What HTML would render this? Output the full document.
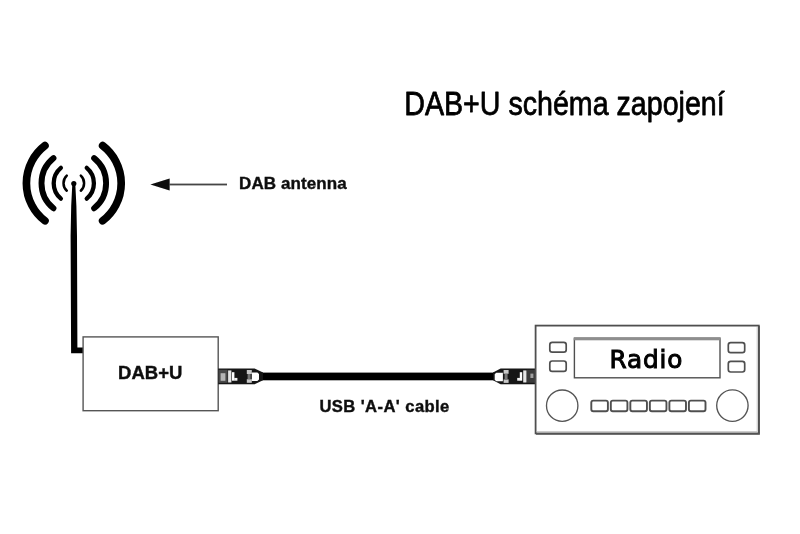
<!DOCTYPE html>
<html>
<head>
<meta charset="utf-8">
<title>DAB+U schéma zapojení</title>
<style>
html,body{margin:0;padding:0;background:#fff;}
body{width:800px;height:534px;overflow:hidden;position:relative;}
svg{position:absolute;left:0;top:0;display:block;}
text{font-family:"Liberation Sans",sans-serif;fill:#000;}
.lbl{font-weight:bold;font-size:13.5px;fill:#111;}
</style>
</head>
<body>
<svg width="800" height="534" viewBox="0 0 800 534">
  <defs>
    <filter id="blur" x="-5%" y="-5%" width="110%" height="110%"><feGaussianBlur stdDeviation="0.6"/></filter>
    <filter id="soft" x="-5%" y="-20%" width="110%" height="140%"><feGaussianBlur stdDeviation="0.35"/></filter>
    <filter id="blur2" x="-10%" y="-30%" width="120%" height="160%"><feGaussianBlur stdDeviation="0.7"/></filter>
  </defs>
  <rect width="800" height="534" fill="#fff"/>
  <text id="title" transform="translate(404.3 114.7) scale(0.842 1)" x="0" y="0" style="font-size:34px;stroke:#000;stroke-width:0.75px;stroke-linejoin:round" filter="url(#soft)">DAB+U schéma zapojení</text>

  <g filter="url(#blur)">
  <!-- antenna waves -->
  <g id="waves" fill="none" stroke="#000" stroke-linecap="round">
    <path d="M44.94 145.60 A 47.4 47.4 0 0 0 44.94 220.80" stroke-width="7.7"/>
    <path d="M102.66 145.60 A 47.4 47.4 0 0 1 102.66 220.80" stroke-width="7.7"/>
    <path d="M53.47 158.10 A 32.3 32.3 0 0 0 53.47 208.30" stroke-width="5.9"/>
    <path d="M94.13 158.10 A 32.3 32.3 0 0 1 94.13 208.30" stroke-width="5.9"/>
    <path d="M60.88 167.80 A 20.1 20.1 0 0 0 60.88 198.60" stroke-width="4.3"/>
    <path d="M86.72 167.80 A 20.1 20.1 0 0 1 86.72 198.60" stroke-width="4.3"/>
    <path d="M66.78 175.67 A 10.3 10.3 0 0 0 66.78 190.73" stroke-width="2.5"/>
    <path d="M80.82 175.67 A 10.3 10.3 0 0 1 80.82 190.73" stroke-width="2.5"/>
  </g>
  <!-- mast -->
  <path id="mast" d="M72.3 184 L75.3 184 L76.4 206 L77 236 L77.4 347.6 L83.2 347.6 L83.2 353.3 L71.1 353.3 L70.6 236 L71.2 206 Z" fill="#000"/>
  <circle cx="73.8" cy="183.6" r="2.6" fill="#000"/>
  <!-- arrow -->
  <path id="arrow" d="M150.4 184.4 L169.6 178.4 L169.6 190.4 Z" fill="#0a0a0a"/>
  <rect x="169" y="183.6" width="58" height="1.8" fill="#444"/>
  <text class="lbl" x="239" y="188.6" style="font-size:17px;letter-spacing:0.1px;stroke:#111;stroke-width:0.4px">DAB antenna</text>

  <!-- DAB+U box -->
  <rect id="box" x="83.1" y="336.9" width="135.1" height="73.8" fill="#fff" stroke="#555" stroke-width="1.4"/>
  <text class="lbl" x="150.2" y="379.4" text-anchor="middle" style="font-size:18.5px;stroke:#111;stroke-width:0.4px">DAB+U</text>

  <!-- cable -->
  <rect x="258" y="372.6" width="240" height="7.7" fill="#000"/>
  <g id="connL" filter="url(#blur2)">
    <path d="M218.2 368.6 L254.6 368.6 L263 372.6 L263 380.3 L254.6 384.3 L218.2 384.3 Z" fill="#161616"/>
    <rect x="218.6" y="369.8" width="9" height="13" fill="#4a4a4a"/>
    <rect x="220.6" y="373.2" width="4.8" height="7.6" fill="#b4b4b4"/>
    <rect x="228.1" y="370.4" width="3.3" height="12.1" fill="#e6e6e6"/>
    <rect x="232" y="372.2" width="2.4" height="8.5" fill="#fff"/>
    <rect x="234.2" y="377.9" width="3.2" height="2.8" fill="#f2f2f2"/>
    <rect x="246.8" y="370" width="5" height="4" fill="#c8c8c8"/>
    <rect x="246.8" y="379.2" width="5" height="3.6" fill="#c8c8c8"/>
    <rect x="247.6" y="374" width="3" height="5.2" fill="#777"/>
    <path d="M251.8 372.5 L257.4 372.5 L259 374 L259 379.6 L257.4 381.1 L251.8 381.1 Z" fill="#fff"/>
  </g>
  <g id="connR" filter="url(#blur2)">
    <path d="M535.5 368.6 L500.6 368.6 L493 372.6 L493 380.3 L500.6 384.3 L535.5 384.3 Z" fill="#161616"/>
    <rect x="527" y="369.8" width="8" height="13" fill="#3a3a3a"/>
    <rect x="530.4" y="373.6" width="3" height="4.4" fill="#a0a0a0"/>
    <rect x="523.2" y="370.4" width="3.3" height="12.1" fill="#e6e6e6"/>
    <rect x="519.8" y="372.2" width="2.4" height="8.5" fill="#fff"/>
    <rect x="517.2" y="377.9" width="2.8" height="2.8" fill="#f2f2f2"/>
    <rect x="503.6" y="370" width="5" height="3.8" fill="#c8c8c8"/>
    <rect x="503.6" y="379.4" width="5" height="3.5" fill="#c8c8c8"/>
    <rect x="504.6" y="373.8" width="3" height="5.6" fill="#777"/>
    <path d="M502.9 372.8 L496.3 372.8 L494.7 374.3 L494.7 379.8 L496.3 381.3 L502.9 381.3 Z" fill="#fff"/>
  </g>
  <text class="lbl" x="319.4" y="412.3" style="font-size:16.6px;letter-spacing:0.42px;stroke:#111;stroke-width:0.4px">USB 'A-A' cable</text>

  <!-- radio -->
  <g id="radio" fill="#fff" stroke="#505050" stroke-width="1.5">
    <rect x="535.6" y="325.6" width="223.2" height="107.8" stroke-width="1.8"/>
    <path d="M536 434.2 H759.6 M759.2 326 V434.8" fill="none" stroke="#555" stroke-width="1.3"/>
    <path d="M537 431.6 H757 M757.2 327 V432" fill="none" stroke="#c8c8c8" stroke-width="1"/>
    <rect x="574.4" y="338.9" width="145.6" height="38.9" stroke-width="1.4"/>
    <rect x="549.8" y="342.4" width="16.4" height="9.8" rx="2.4" stroke-width="1.7"/>
    <rect x="549.8" y="361" width="16.4" height="10.3" rx="2.4" stroke-width="1.7"/>
    <rect x="728.3" y="342.6" width="16.4" height="10" rx="2.4" stroke-width="1.7"/>
    <rect x="728.3" y="361.4" width="16.4" height="10.6" rx="2.4" stroke-width="1.7"/>
    <circle cx="562.2" cy="405.7" r="15.7" stroke-width="1.35" stroke="#555"/>
    <circle cx="732.4" cy="405.6" r="15.7" stroke-width="1.35" stroke="#555"/>
    <rect x="591.30" y="400.6" width="16.6" height="10.7" rx="2" stroke-width="1.9"/>
    <rect x="610.82" y="400.6" width="16.6" height="10.7" rx="2" stroke-width="1.9"/>
    <rect x="630.34" y="400.6" width="16.6" height="10.7" rx="2" stroke-width="1.9"/>
    <rect x="649.86" y="400.6" width="16.6" height="10.7" rx="2" stroke-width="1.9"/>
    <rect x="669.38" y="400.6" width="16.6" height="10.7" rx="2" stroke-width="1.9"/>
    <rect x="688.90" y="400.6" width="16.6" height="10.7" rx="2" stroke-width="1.9"/>
  </g>
  <rect x="573.7" y="337.1" width="147" height="3.2" fill="#8e8e8e"/>
  <text id="radiotxt" x="609.5" y="367.7" style="font-family:'DejaVu Sans','Liberation Sans',sans-serif;font-size:24.7px;stroke:#000;stroke-width:1px;letter-spacing:0.9px;fill:#000">Radio</text>
  </g>
</svg>
</body>
</html>
